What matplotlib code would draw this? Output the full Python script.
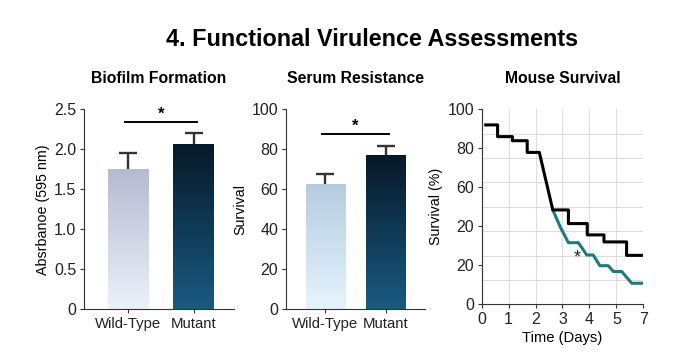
import matplotlib
matplotlib.use("Agg")
import matplotlib.pyplot as plt
import numpy as np
from matplotlib.colors import LinearSegmentedColormap
from matplotlib.ticker import MultipleLocator

plt.rcParams["font.family"] = ["Liberation Sans", "DejaVu Sans"]

groups = ["Wild-Type", "Mutant"]

biofilm_mean = [1.76, 2.07]
biofilm_err = [0.19, 0.14]
biofilm_sig = 2.34
biofilm_ticks = [0, 0.5, 1.0, 1.5, 2.0, 2.5]
biofilm_ticklabels = ["0", "0.5", "1.0", "1.5", "2.0", "2.5"]

serum_mean = [62.5, 77.2]
serum_err = [5.0, 4.6]
serum_sig = 87.7
serum_ticks = [0, 20, 40, 60, 80, 100]

# mouse survival, x in tick-index units (ticks labelled 0 1 2 3 4 5 7)
wt_x = [0.15, 0.59, 0.59, 1.14, 1.14, 1.69, 1.69, 2.14, 2.64, 3.22, 3.22,
        3.92, 3.92, 4.54, 4.54, 5.38, 5.38, 5.94]
wt_y = [92.0, 92.0, 86.0, 86.0, 83.9, 83.9, 77.9, 77.9, 48.4, 48.4, 41.4,
        41.4, 35.6, 35.6, 32.0, 32.0, 25.1, 25.1]
mut_x = [2.64, 2.93, 3.22, 3.59, 3.90, 4.14, 4.39, 4.70, 4.89, 5.20, 5.57, 5.94]
mut_y = [48.4, 39.3, 31.6, 31.6, 25.3, 25.3, 19.8, 19.8, 16.8, 16.8, 10.8, 10.8]
surv_xticklabels = ["0", "1", "2", "3", "4", "5", "7"]
surv_yticklabels = ["0", "20", "20", "60", "80", "100"]
star_pt = (3.53, 23.6)

light_bio = ("#edf1fb", "#b5bad0")
light_serum = ("#e6f4fd", "#b5cce0")
dark = ("#1a5a82", "#061828")
teal = "#1f7a80"
axis_col = "#333333"


def gradient_bars(ax, bars, color_pairs):
    grad = np.linspace(0, 1, 256).reshape(-1, 1)
    for bar, (c0, c1) in zip(bars, color_pairs):
        x0, y0 = bar.get_x(), bar.get_y()
        w, h = bar.get_width(), bar.get_height()
        cmap = LinearSegmentedColormap.from_list("g", [c0, c1])
        im = ax.imshow(grad, extent=[x0, x0 + w, y0, y0 + h], origin="lower",
                       cmap=cmap, aspect="auto", zorder=2)
        im.set_clip_path(bar)
        bar.set_facecolor("none")


def style_axes(ax):
    for s in ["top", "right"]:
        ax.spines[s].set_visible(False)
    for s in ["left", "bottom"]:
        ax.spines[s].set_color(axis_col)
    ax.tick_params(colors=axis_col, labelcolor="#222222", labelsize=11.5, length=3, pad=2.5)


def bar_panel(ax, means, errs, sig, colors, width, xlim):
    x = np.arange(len(means))
    bars = ax.bar(x, means, width=width, edgecolor="none", zorder=1)
    gradient_bars(ax, bars, colors)
    _, caps, _ = ax.errorbar(x, means, yerr=[[0] * len(errs), errs], fmt="none",
                             ecolor=axis_col, elinewidth=1.7, capsize=6.5, capthick=1.7,
                             zorder=3)
    caps[0].set_visible(False)
    ax.plot([-0.05, 1.05], [sig, sig], color="black", lw=1.4)
    ax.text(0.5, sig, "*", ha="center", va="bottom", fontsize=12, fontweight="bold")
    ax.set_xlim(*xlim)
    ax.set_xticks(x)
    ax.set_xticklabels(groups)
    style_axes(ax)
    ax.tick_params(axis="x", labelsize=10.7)


fig = plt.figure(figsize=(6.85, 3.57), dpi=100)
fig.text(0.543, 0.888, "4. Functional Virulence Assessments", ha="center", va="center",
         fontsize=16.8, fontweight="bold")

ax1 = fig.add_axes([0.1226, 0.1336, 0.219, 0.560])
bar_panel(ax1, biofilm_mean, biofilm_err, biofilm_sig, [light_bio, dark], 0.62, (-0.68, 1.62))
ax1.set_ylim(0, 2.5)
ax1.set_yticks(biofilm_ticks)
ax1.set_yticklabels(biofilm_ticklabels)
ax1.set_ylabel("Absrbanoe (595 nm)", fontsize=10.3, labelpad=3)
ax1.set_title("Biofilm Formation", fontsize=11.3, fontweight="bold", pad=19)

ax2 = fig.add_axes([0.4175, 0.1336, 0.2029, 0.560])
bar_panel(ax2, serum_mean, serum_err, serum_sig, [light_serum, dark], 0.66, (-0.655, 1.65))
ax2.set_ylim(0, 100)
ax2.set_yticks(serum_ticks)
ax2.set_ylabel("Survival", fontsize=10.3, labelpad=3)
ax2.set_title("Serum Resistance", fontsize=11.3, fontweight="bold", pad=19)

ax3 = fig.add_axes([0.7032, 0.1476, 0.2359, 0.5462])
ax3.plot(wt_x, wt_y, color="black", lw=2.2, zorder=3)
ax3.plot(mut_x, mut_y, color=teal, lw=2.2, zorder=2)
ax3.text(star_pt[0], star_pt[1], "*", ha="center", va="center", fontsize=13, color="#222222")
ax3.set_xlim(0, 6)
ax3.set_ylim(0, 100)
ax3.set_xticks(range(7))
ax3.set_xticklabels(surv_xticklabels)
ax3.set_yticks([0, 20, 40, 60, 80, 100])
ax3.set_yticklabels(surv_yticklabels)
ax3.yaxis.set_minor_locator(MultipleLocator(12.5))
ax3.grid(which="minor", axis="y", color="#dddddd", lw=0.8)
ax3.grid(which="major", axis="x", color="#dddddd", lw=0.8)
ax3.set_axisbelow(True)
style_axes(ax3)
ax3.tick_params(which="minor", length=0)
ax3.set_xlabel("Time (Days)", fontsize=10.6, labelpad=3)
ax3.set_ylabel("Survival (%)", fontsize=10.3, labelpad=3)
ax3.set_title("Mouse Survival", fontsize=11.3, fontweight="bold", pad=19)

fig.savefig("out.png", dpi=100)
